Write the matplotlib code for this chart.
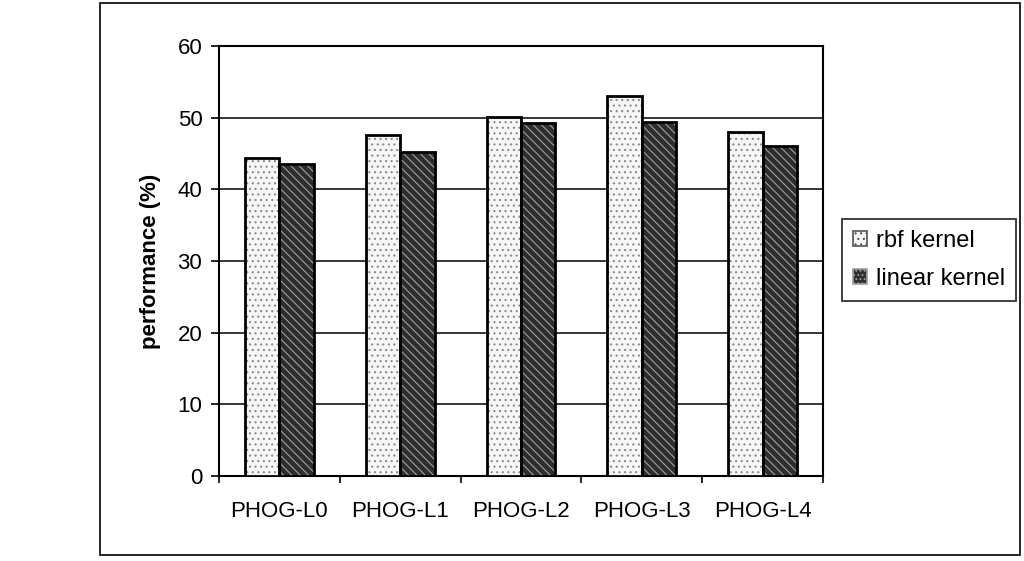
import numpy as np
import matplotlib
matplotlib.use("Agg")
from matplotlib import pyplot as plt
from matplotlib.patches import Rectangle

plt.rcParams['font.family'] = ['Liberation Sans', 'DejaVu Sans']
plt.rcParams['hatch.linewidth'] = 0.8

## data
categories = ['PHOG-L0', 'PHOG-L1', 'PHOG-L2', 'PHOG-L3', 'PHOG-L4']
rbf_kernel = [44.4, 47.6, 50.1, 53.0, 48.0]
linear_kernel = [43.5, 45.2, 49.2, 49.4, 46.1]
series_names = ['rbf kernel', 'linear kernel']

fig = plt.figure(figsize=(10.24, 5.61), dpi=100)
ax = fig.add_axes([219 / 1024, 1 - 476 / 561, (823 - 219) / 1024, (476 - 46) / 561])

# outer chart frame
fig.patches.append(Rectangle((100 / 1024, 1 - 555 / 561), 920 / 1024, 552 / 561,
                             transform=fig.transFigure, fill=False,
                             edgecolor='black', linewidth=1.2))

x = np.arange(len(categories))
w = 0.285

b1 = ax.bar(x - w / 2, rbf_kernel, w, color='#f6f6f6', edgecolor='#8a8a8a',
            linewidth=0, hatch='...', label=series_names[0], zorder=3)
b2 = ax.bar(x + w / 2, linear_kernel, w, color='#2e2e2e', edgecolor='#a0a0a0',
            linewidth=0, hatch='\\\\\\\\', label=series_names[1], zorder=3)
# black outlines drawn separately so the hatch keeps its own colour
for p in list(b1) + list(b2):
    ax.add_patch(Rectangle(p.get_xy(), p.get_width(), p.get_height(),
                           fill=False, edgecolor='black', linewidth=2, zorder=4))

ax.set_xlim(-0.5, len(categories) - 0.5)
ax.set_ylim(0, 60)
ax.set_yticks(range(0, 61, 10))
ax.yaxis.grid(True, color='black', linewidth=1.1, zorder=0)
ax.set_axisbelow(True)

ax.set_xticks(x)
ax.set_xticklabels(categories, fontsize=16)
ax.set_xticks(np.arange(-0.5, len(categories)), minor=True)
ax.tick_params(axis='x', which='major', length=0, pad=18)
ax.tick_params(axis='x', which='minor', length=5, width=1.2, direction='out')
ax.tick_params(axis='y', labelsize=16, length=6, width=1.2, direction='out', pad=6)

for s in ax.spines.values():
    s.set_linewidth(1.5)

ax.set_ylabel('performance (%)', fontsize=16, fontweight='bold', labelpad=12)

h1 = Rectangle((0, 0), 1, 1, facecolor='#f6f6f6', edgecolor='#555555', hatch='...', linewidth=1.2)
h2 = Rectangle((0, 0), 1, 1, facecolor='#2e2e2e', edgecolor='#a0a0a0', hatch='....', linewidth=1.2)
leg = fig.legend(handles=[h1, h2], labels=series_names,
                 loc='center', bbox_to_anchor=(929 / 1024, 1 - 260 / 561),
                 fontsize=17, frameon=True, fancybox=False, edgecolor='black',
                 handlelength=0.6, handleheight=0.6, handletextpad=0.4,
                 borderpad=0.45, labelspacing=0.7, borderaxespad=0)
leg.get_frame().set_linewidth(1.3)

fig.savefig('out.png', dpi=100)
